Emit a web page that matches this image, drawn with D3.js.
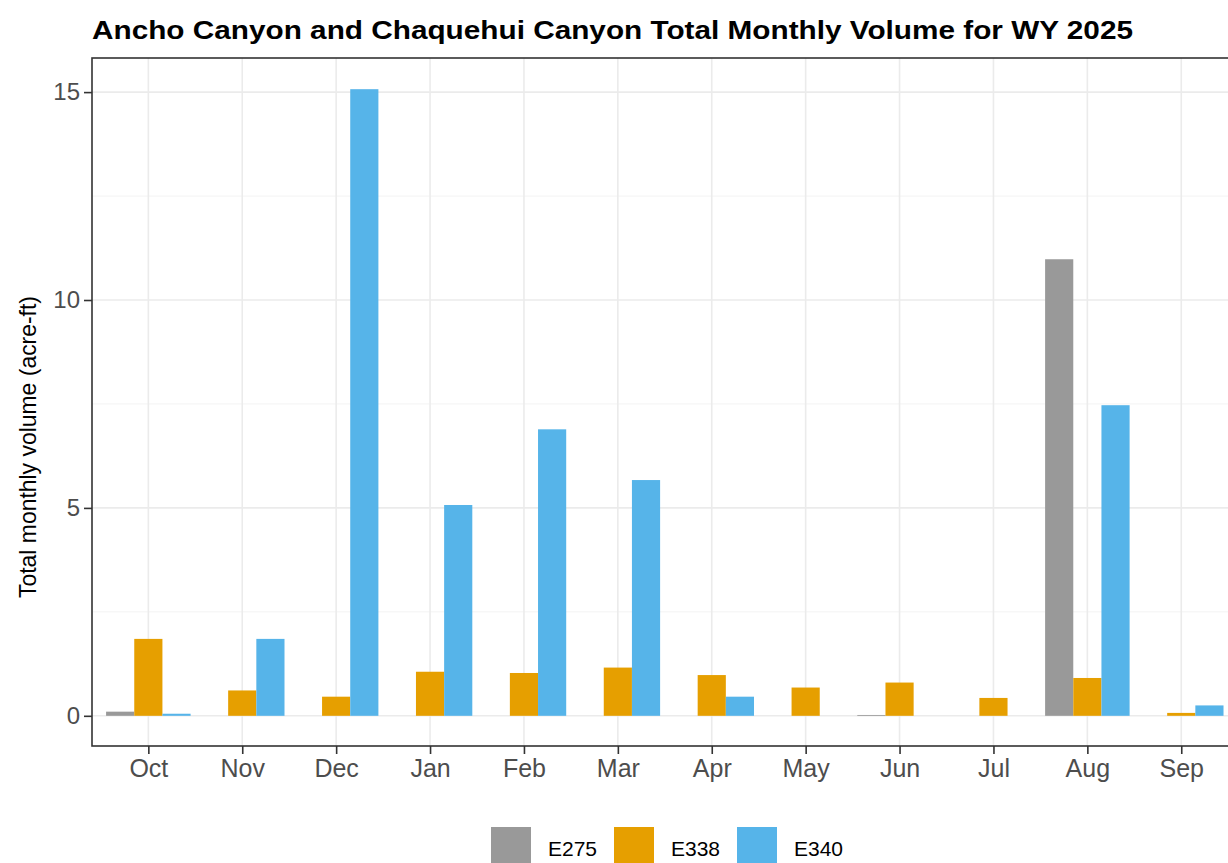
<!DOCTYPE html>
<html>
<head>
<meta charset="utf-8">
<script src="https://cdn.jsdelivr.net/npm/d3@7"></script>
<style>
  html, body { margin: 0; padding: 0; background: #fff; }
  svg { display: block; font-family: "Liberation Sans", Arial, sans-serif; }
</style>
</head>
<body>
<svg id="chart" width="1228" height="863"></svg>
<script>
// Water year months, October through September
const months = ["Oct", "Nov", "Dec", "Jan", "Feb", "Mar", "Apr", "May", "Jun", "Jul", "Aug", "Sep"];
const gauges = ["E275", "E338", "E340"];

// Total monthly volume (acre-ft) per gauge
const e275 = [0.10, 0, 0, 0, 0, 0, 0, 0, 0.02, 0, 10.98, 0];
const e338 = [1.85, 0.61, 0.46, 1.06, 1.03, 1.16, 0.98, 0.68, 0.80, 0.43, 0.91, 0.07];
const e340 = [0.05, 1.85, 15.07, 5.07, 6.89, 5.67, 0.46, 0, 0, 0, 7.47, 0.25];

const yTicks = [0, 5, 10, 15];
const yMinor = [2.5, 7.5, 12.5];
const colors = ["#999999", "#E69F00", "#56B4E9"];

const seriesValues = [e275, e338, e340];
const rows = [];
months.forEach((m, i) => {
  gauges.forEach((g, j) => rows.push({ month: m, gauge: g, value: seriesValues[j][i] }));
});

const svg = d3.select("#chart");
const panel = { left: 92, right: 1237.6, top: 58, bottom: 746 };

const x = d3.scalePoint().domain(months).range([panel.left, panel.right]).padding(0.6);
const step = x.step();
const xSub = d3.scaleBand().domain(gauges).range([-0.45 * step, 0.45 * step]).padding(0);
const y = d3.scaleLinear().domain([-0.75, 15.82]).range([747, panel.top]);
const color = d3.scaleOrdinal().domain(gauges).range(colors);

// Grid
const grid = svg.append("g");
grid.selectAll("line.minor").data(yMinor).join("line")
  .attr("x1", panel.left).attr("x2", panel.right)
  .attr("y1", d => y(d)).attr("y2", d => y(d))
  .attr("stroke", "#f3f3f3").attr("stroke-width", 1);
grid.selectAll("line.major").data(yTicks).join("line")
  .attr("x1", panel.left).attr("x2", panel.right)
  .attr("y1", d => y(d)).attr("y2", d => y(d))
  .attr("stroke", "#ebebeb").attr("stroke-width", 1.6);
grid.selectAll("line.vx").data(months).join("line")
  .attr("x1", d => x(d)).attr("x2", d => x(d))
  .attr("y1", panel.top).attr("y2", panel.bottom)
  .attr("stroke", "#ebebeb").attr("stroke-width", 1.6);

// Bars
svg.append("g").selectAll("rect").data(rows).join("rect")
  .attr("x", d => x(d.month) + xSub(d.gauge))
  .attr("width", xSub.bandwidth())
  .attr("y", d => y(Math.max(0, d.value)))
  .attr("height", d => Math.abs(y(0) - y(d.value)))
  .attr("fill", d => color(d.gauge));

// Panel border
svg.append("rect")
  .attr("x", panel.left).attr("y", panel.top)
  .attr("width", panel.right - panel.left).attr("height", panel.bottom - panel.top)
  .attr("fill", "none").attr("stroke", "#333333").attr("stroke-width", 1.6);

// Y axis
const yAxis = d3.axisLeft(y).tickValues(yTicks).tickSize(8).tickPadding(4).tickFormat(d3.format("d"));
const gy = svg.append("g").attr("transform", `translate(${panel.left},0)`).call(yAxis);
gy.select(".domain").remove();
gy.selectAll(".tick line").attr("stroke", "#333333").attr("stroke-width", 1.6);
gy.selectAll(".tick text").attr("fill", "#4d4d4d").style("font-size", "24px")
  .style("font-family", "Liberation Sans, Arial, sans-serif");

// X axis
const xAxis = d3.axisBottom(x).tickSize(8).tickPadding(5);
const gx = svg.append("g").attr("transform", `translate(0,${panel.bottom})`).call(xAxis);
gx.select(".domain").remove();
gx.selectAll(".tick line").attr("stroke", "#333333").attr("stroke-width", 1.6);
gx.selectAll(".tick text").attr("fill", "#4d4d4d").style("font-size", "25px")
  .style("font-family", "Liberation Sans, Arial, sans-serif");

// Axis title
svg.append("text")
  .attr("transform", "translate(36,447) rotate(-90)")
  .attr("text-anchor", "middle")
  .attr("fill", "#000")
  .style("font-size", "24px")
  .attr("textLength", 302)
  .attr("lengthAdjust", "spacingAndGlyphs")
  .text("Total monthly volume (acre-ft)");

// Title
svg.append("text")
  .attr("x", 92).attr("y", 39)
  .attr("font-weight", "bold")
  .attr("fill", "#000")
  .style("font-size", "26px")
  .attr("textLength", 1041)
  .attr("lengthAdjust", "spacingAndGlyphs")
  .text("Ancho Canyon and Chaquehui Canyon Total Monthly Volume for WY 2025");

// Legend
const legend = svg.append("g");
const keyX = d3.scalePoint().domain(gauges).range([491, 737]);
const items = legend.selectAll("g").data(gauges).join("g")
  .attr("transform", d => `translate(${keyX(d)},827)`);
items.append("rect").attr("width", 40).attr("height", 40).attr("fill", d => color(d));
items.append("text").attr("x", 57).attr("y", 29)
  .attr("fill", "#000").style("font-size", "21px").text(d => d);
</script>
</body>
</html>
